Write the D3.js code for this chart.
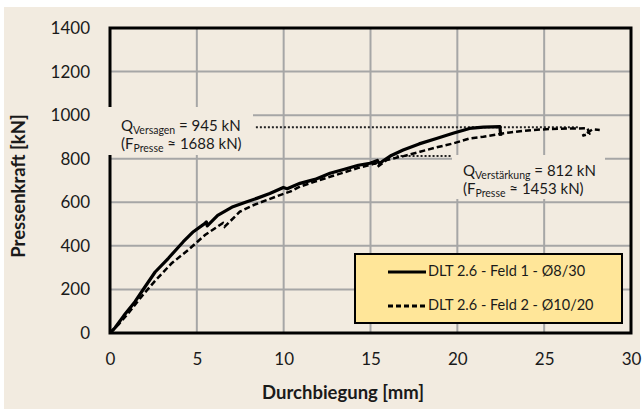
<!DOCTYPE html>
<html lang="en">
<head>
    <meta charset="UTF-8">
    <title>Pressenkraft - Durchbiegung</title>
    <script src="https://d3js.org/d3.v7.min.js"></script>
    <style>
        body { margin: 0; background: #ffffff; }
        text { font-family: Lato, "Open Sans", sans-serif; fill: #1a1a1a; }
    </style>
</head>
<body>
<svg width="642" height="412"></svg>
<script>
// Feld 1 (solid)
const feld1Mm = [0, 0.3, 0.8, 1.44, 2.0, 2.6, 3.36, 4.22, 4.8, 5.47, 5.55, 5.6, 6.2, 7.08, 7.8, 8.45, 9.2, 9.98, 10.2, 10.94, 11.8, 12.67, 13.5, 14.3, 14.97, 15.4, 15.5, 16.2, 16.88, 17.8, 18.8, 19.8, 20.7, 21.5, 22.0, 22.45, 22.5];
const feld1Kn = [0, 25, 80, 144, 210, 280, 343, 419, 465, 503, 510, 492, 540, 580, 600, 618, 640, 668, 662, 687, 705, 733, 752, 770, 779, 792, 778, 815, 840, 868, 893, 918, 939, 945, 946, 947, 905];

// Feld 2 (dashed)
const feld2Mm = [0, 0.5, 1.0, 1.73, 2.6, 3.55, 4.5, 5.47, 6.33, 6.5, 6.6, 7.48, 8.2, 9.02, 9.79, 10.4, 10.94, 11.8, 12.67, 13.6, 14.3, 14.97, 15.3, 15.4, 15.93, 16.9, 17.85, 18.8, 19.76, 20.7, 21.5, 22.6, 23.5, 24.37, 25.3, 26.29, 27.0, 27.5, 27.6, 27.2, 27.8, 28.2];
const feld2Kn = [0, 40, 85, 159, 240, 320, 381, 450, 496, 505, 488, 557, 585, 610, 633, 650, 672, 695, 717, 740, 758, 771, 780, 762, 794, 812, 832, 852, 870, 893, 901, 916, 925, 932, 936, 939, 939, 940, 915, 905, 935, 932];

const xTicks = [0, 5, 10, 15, 20, 25, 30];
const yTicks = [0, 200, 400, 600, 800, 1000, 1200, 1400];

const qVersagen = 945;
const qVerstaerkung = 812;
const seriesNames = ['DLT 2.6 - Feld 1 - Ø8/30', 'DLT 2.6 - Feld 2 - Ø10/20'];

const plotL = 110, plotR = 631, plotT = 28, plotB = 333;
const beige = '#f2ebe0';

const x = d3.scaleLinear().domain([0, 30]).range([plotL, plotR]);
const y = d3.scaleLinear().domain([0, 1400]).range([plotB, plotT]);

const svg = d3.select('svg');

svg.append('rect')
    .attr('x', 4).attr('y', 7)
    .attr('width', 636).attr('height', 402)
    .attr('fill', beige);

// grid
svg.append('g')
    .selectAll('line')
    .data(xTicks.slice(1, -1))
    .enter().append('line')
    .attr('x1', d => x(d)).attr('x2', d => x(d))
    .attr('y1', plotT).attr('y2', plotB)
    .attr('stroke', '#a6a6a6').attr('stroke-width', 2);

svg.append('g')
    .selectAll('line')
    .data(yTicks.slice(1, -1))
    .enter().append('line')
    .attr('x1', plotL).attr('x2', plotR)
    .attr('y1', d => y(d)).attr('y2', d => y(d))
    .attr('stroke', '#a6a6a6').attr('stroke-width', 2);

// axes (labels only)
const xAxis = svg.append('g')
    .attr('transform', `translate(0, ${plotB})`)
    .call(d3.axisBottom(x).tickValues(xTicks).tickFormat(d3.format('d')).tickSize(0).tickPadding(20));
const yAxis = svg.append('g')
    .attr('transform', `translate(${plotL}, 0)`)
    .call(d3.axisLeft(y).tickValues(yTicks).tickFormat(d3.format('d')).tickSize(0).tickPadding(20));
[xAxis, yAxis].forEach(a => {
    a.select('.domain').remove();
    a.selectAll('text').style('font-size', '17px').style('font-family', 'Lato').attr('fill', '#1a1a1a');
});

// plot frame
svg.append('rect')
    .attr('x', plotL).attr('y', plotT)
    .attr('width', plotR - plotL).attr('height', plotB - plotT)
    .attr('fill', 'none').attr('stroke', '#000').attr('stroke-width', 3);

// reference lines
svg.append('line')
    .attr('x1', x(8.4)).attr('x2', x(27))
    .attr('y1', y(qVersagen)).attr('y2', y(qVersagen))
    .attr('stroke', '#222').attr('stroke-width', 2).attr('stroke-dasharray', '2,2');
svg.append('line')
    .attr('x1', x(16.5)).attr('x2', x(19.8))
    .attr('y1', y(qVerstaerkung)).attr('y2', y(qVerstaerkung))
    .attr('stroke', '#222').attr('stroke-width', 2).attr('stroke-dasharray', '2,2');

const line = d3.line().x(d => x(d[0])).y(d => y(d[1]));

svg.append('path')
    .datum(d3.zip(feld2Mm, feld2Kn))
    .attr('d', line)
    .attr('fill', 'none').attr('stroke', '#000')
    .attr('stroke-width', 2.5).attr('stroke-dasharray', '6,3');

svg.append('path')
    .datum(d3.zip(feld1Mm, feld1Kn))
    .attr('d', line)
    .attr('fill', 'none').attr('stroke', '#000')
    .attr('stroke-width', 3.2).attr('stroke-linejoin', 'round');

// annotation boxes
function note(bx, by, bw, bh, tx, ty, sub1, rest1, rest2) {
    svg.append('rect')
        .attr('x', bx).attr('y', by).attr('width', bw).attr('height', bh)
        .attr('fill', beige);
    const t1 = svg.append('text').attr('x', tx).attr('y', ty).style('font-size', '15px');
    t1.append('tspan').text('Q');
    t1.append('tspan').attr('dy', 3).style('font-size', '10.5px').text(sub1);
    t1.append('tspan').attr('dy', -3).text(rest1);
    const t2 = svg.append('text').attr('x', tx).attr('y', ty + 18).style('font-size', '15px');
    t2.append('tspan').text('(F');
    t2.append('tspan').attr('dy', 3).style('font-size', '10.5px').text('Presse');
    t2.append('tspan').attr('dy', -3).text(rest2);
}
note(108, 107, 145, 48, 121, 131, 'Versagen', ' = 945 kN', ' ≈ 1688 kN)');
note(452, 155, 153, 44, 463, 176, 'Verstärkung', ' = 812 kN', ' ≈ 1453 kN)');

// legend
const legend = svg.append('g');
legend.append('rect')
    .attr('x', 355).attr('y', 254).attr('width', 267).attr('height', 69)
    .attr('fill', '#ffe699').attr('stroke', '#000').attr('stroke-width', 2);
const rowY = [272, 306];
legend.selectAll('line')
    .data(seriesNames)
    .enter().append('line')
    .attr('x1', 388).attr('x2', 426)
    .attr('y1', (d, i) => rowY[i]).attr('y2', (d, i) => rowY[i])
    .attr('stroke', '#000').attr('stroke-width', 3)
    .attr('stroke-dasharray', (d, i) => i === 1 ? '5,3' : null);
legend.selectAll('text')
    .data(seriesNames)
    .enter().append('text')
    .attr('x', 428)
    .attr('y', (d, i) => rowY[i])
    .attr('dominant-baseline', 'middle')
    .style('font-size', '14.5px')
    .text(d => d);

// axis titles
svg.append('text')
    .attr('x', 343).attr('y', 399)
    .attr('text-anchor', 'middle')
    .style('font-size', '18.5px').style('font-weight', 'bold')
    .text('Durchbiegung [mm]');
svg.append('text')
    .attr('transform', 'translate(25, 186) rotate(-90)')
    .attr('text-anchor', 'middle')
    .style('font-size', '18.5px').style('font-weight', 'bold')
    .text('Pressenkraft [kN]');
</script>
</body>
</html>
